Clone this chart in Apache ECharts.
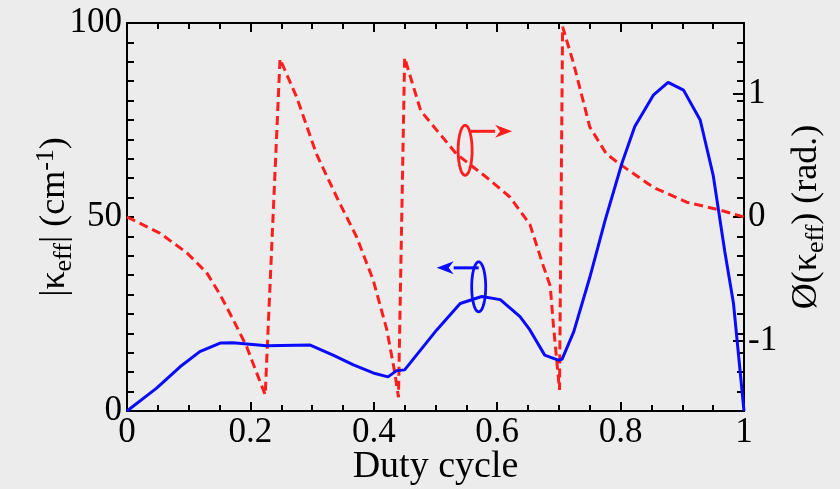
<!DOCTYPE html>
<html>
<head>
<meta charset="utf-8">
<script src="https://cdn.jsdelivr.net/npm/echarts@6/dist/echarts.min.js"></script>
<style>
  html, body { margin: 0; padding: 0; background: #ececec; }
  #chart { width: 840px; height: 489px; }
</style>
</head>
<body>
<div id="chart"></div>
<script>
// Magnitude of the effective coupling coefficient (left axis, cm^-1)
const dutyMag = [0, 0.048, 0.086, 0.118, 0.151, 0.172, 0.226, 0.297, 0.334, 0.367, 0.399, 0.423, 0.437, 0.450,
                 0.502, 0.540, 0.575, 0.605, 0.637, 0.653, 0.677, 0.699, 0.705, 0.724, 0.750, 0.775, 0.802,
                 0.823, 0.853, 0.877, 0.902, 0.929, 0.950, 0.969, 0.983, 1.0];
const kappaMag = [0, 5.9, 11.4, 15.3, 17.5, 17.6, 16.8, 17.0, 14.4, 11.9, 9.8, 8.8, 10.4, 10.6,
                  20.9, 27.7, 29.5, 28.7, 24.3, 20.9, 14.4, 13.1, 13.3, 20.4, 34.4, 49.2, 63.8,
                  73.3, 81.4, 84.7, 82.7, 75.0, 60.8, 41.0, 27.7, 0];

// Phase of the effective coupling coefficient (right axis, rad)
const dutyPhase = [0, 0.053, 0.097, 0.129, 0.151, 0.172, 0.194, 0.210, 0.224, 0.248, 0.275, 0.307, 0.340,
                   0.372, 0.399, 0.421, 0.434, 0.440, 0.450, 0.476, 0.534, 0.583, 0.621, 0.653, 0.675,
                   0.686, 0.691, 0.701, 0.706, 0.724, 0.750, 0.777, 0.804, 0.853, 0.907, 0.961, 1.0];
const kappaPhase = [0, -0.13, -0.29, -0.45, -0.63, -0.83, -1.05, -1.26, -1.44, 1.28, 0.97, 0.51, 0.16,
                    -0.16, -0.51, -0.91, -1.26, -1.46, 1.29, 0.86, 0.51, 0.32, 0.16, -0.06, -0.40,
                    -0.56, -0.87, -1.40, 1.54, 1.24, 0.73, 0.51, 0.41, 0.24, 0.12, 0.056, 0];

// Tick values
const dutyTicks = [0, 0.2, 0.4, 0.6, 0.8, 1];
const magTicks = [0, 50, 100];
const phaseTicks = [-1, 0, 1];

const FONT = 'Liberation Serif';
const BLUE = '#0a0aff';
const RED = '#ff1e1e';

function pairs(xs, ys) { return xs.map((x, i) => [x, ys[i]]); }

const chart = echarts.init(document.getElementById('chart'), null, { renderer: 'canvas' });

const tickLabel = { fontFamily: FONT, fontSize: 35, color: '#000' };
const axisLine = { show: true, onZero: false, lineStyle: { color: '#000', width: 2 } };

const xBase = {
  type: 'value', min: 0, max: 1, interval: 0.2,
  axisLine: axisLine,
  axisTick: { show: true, inside: true, length: 9, lineStyle: { color: '#000', width: 2 } },
  minorTick: { show: true, splitNumber: 4, length: 6, lineStyle: { color: '#000', width: 2 } },
  splitLine: { show: false }
};

const magBase = {
  type: 'value', min: 0, max: 100, interval: 50,
  axisLine: axisLine,
  axisTick: { show: true, inside: true, length: 7, lineStyle: { color: '#000', width: 2 } },
  minorTick: { show: true, splitNumber: 10, length: 7, lineStyle: { color: '#000', width: 2 } },
  splitLine: { show: false }
};

const nameStyle = {
  fontFamily: FONT, fontSize: 36, color: '#000', lineHeight: 44,
  rich: {
    s: { fontFamily: FONT, fontSize: 26, color: '#000', lineHeight: 26, verticalAlign: 'bottom' },
    p: { fontFamily: FONT, fontSize: 26, color: '#000', lineHeight: 26, verticalAlign: 'top' }
  }
};

const option = {
  backgroundColor: '#ececec',
  animation: false,
  grid: { left: 127, right: 96, top: 23, bottom: 78, containLabel: false, outerBoundsMode: 'none' },
  xAxis: [
    Object.assign({}, xBase, {
      position: 'bottom',
      name: 'Duty cycle', nameLocation: 'middle', nameGap: 37, nameMoveOverlap: false,
      nameTextStyle: { fontFamily: FONT, fontSize: 38, color: '#000' },
      axisLabel: Object.assign({}, tickLabel, {
        margin: 4,
        formatter: v => String(+v.toFixed(1)),
        customValues: dutyTicks
      })
    }),
    Object.assign({}, xBase, { position: 'top', axisLabel: { show: false } })
  ],
  yAxis: [
    Object.assign({}, magBase, {
      position: 'left',
      name: '|κ{s|eff}| (cm{p|-1})', nameLocation: 'middle', nameGap: 50, nameRotate: 90,
      nameMoveOverlap: false,
      nameTextStyle: nameStyle,
      axisLabel: Object.assign({}, tickLabel, { margin: 5, customValues: magTicks })
    }),
    {
      type: 'value', position: 'right', offset: 0,
      min: -Math.PI / 2, max: Math.PI / 2,
      axisLine: axisLine,
      axisTick: { show: true, inside: true, length: 11, customValues: phaseTicks, lineStyle: { color: '#000', width: 2 } },
      axisLabel: Object.assign({}, tickLabel, { margin: 4, customValues: phaseTicks, formatter: v => String(Math.round(v)) }),
      splitLine: { show: false },
      name: 'Ø(κ{s|eff}) (rad.)', nameLocation: 'middle', nameGap: 41, nameRotate: 90,
      nameMoveOverlap: false,
      nameTextStyle: nameStyle
    },
    Object.assign({}, magBase, {
      position: 'right', offset: 0,
      axisLabel: { show: false }
    })
  ],
  series: [
    {
      type: 'line', xAxisIndex: 0, yAxisIndex: 1,
      data: pairs(dutyPhase, kappaPhase),
      showSymbol: false, smooth: false,
      lineStyle: { color: RED, width: 3, type: [9, 5] },
      z: 3
    },
    {
      type: 'line', xAxisIndex: 0, yAxisIndex: 0,
      data: pairs(dutyMag, kappaMag),
      showSymbol: false, smooth: false,
      lineStyle: { color: BLUE, width: 3 },
      z: 4
    }
  ]
};

chart.setOption(option);

// Axis-assignment markers: an ellipse round each curve with an arrow toward its axis
function ellipsePoints(cx, cy, rx, ry) {
  const pts = [];
  for (let i = 0; i < 64; i++) {
    const a = (i / 64) * Math.PI * 2;
    pts.push([cx + rx * Math.cos(a), cy + ry * Math.sin(a)]);
  }
  return pts;
}

function marker(center, color, dir) {
  const [cx, cy] = center;
  const ay = cy - 19;
  const x0 = cx + (dir > 0 ? 5 : 0);
  const tip = x0 + dir * 42;
  const head = 17;
  return [
    { type: 'polygon', shape: { points: ellipsePoints(cx, cy, 7, 25) },
      style: { fill: 'none', stroke: color, lineWidth: 2.8 }, z: 10 },
    { type: 'line', shape: { x1: x0, y1: ay, x2: tip - dir * head, y2: ay },
      style: { stroke: color, lineWidth: 3 }, z: 10 },
    { type: 'polygon', shape: { points: [[tip, ay], [tip - dir * head, ay - 6.5], [tip - dir * (head - 5), ay], [tip - dir * head, ay + 6.5]] },
      style: { fill: color }, z: 10 }
  ];
}

const redCenter = chart.convertToPixel({ xAxisIndex: 0, yAxisIndex: 1 }, [0.548, 0.54]);
const blueCenter = chart.convertToPixel({ xAxisIndex: 0, yAxisIndex: 0 }, [0.570, 32.0]);

chart.setOption({
  graphic: { elements: [].concat(marker(redCenter, RED, 1), marker(blueCenter, BLUE, -1)) }
});
</script>
</body>
</html>
